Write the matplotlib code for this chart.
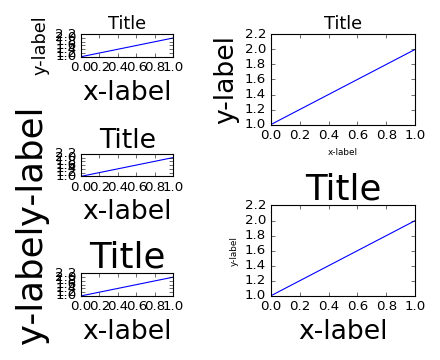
import matplotlib
matplotlib.use("Agg")
import matplotlib.pyplot as plt
import matplotlib.gridspec as gridspec

plt.style.use('classic')

# 数据：每个子图都画 [1, 2]
line_y = [1, 2]
y_limits = (1.0, 2.2)

# 每个子图的 (x-label, y-label, Title) 字号
sizes_left = [(24, 16, 16), (24, 32, 24), (24, 32, 32)]
sizes_right = [(8, 24, 16), (24, 8, 32)]


def example_plot(ax, fs):
    ax.plot(line_y)
    ax.set_ylim(*y_limits)
    ax.set_xlabel('x-label', fontsize=fs[0])
    ax.set_ylabel('y-label', fontsize=fs[1])
    ax.set_title('Title', fontsize=fs[2])


fig = plt.figure(figsize=(5.5, 4.5), dpi=80)

gs1 = gridspec.GridSpec(3, 1, left=0.184, right=0.394, top=0.905,
                        bottom=0.178, hspace=4.30)
for i, fs in enumerate(sizes_left):
    ax = fig.add_subplot(gs1[i])
    example_plot(ax, fs)

gs2 = gridspec.GridSpec(2, 1, left=0.615, right=0.944, top=0.905,
                        bottom=0.178, hspace=0.892)
for i, fs in enumerate(sizes_right):
    ax = fig.add_subplot(gs2[i])
    example_plot(ax, fs)

fig.savefig('out.png', dpi=80)
